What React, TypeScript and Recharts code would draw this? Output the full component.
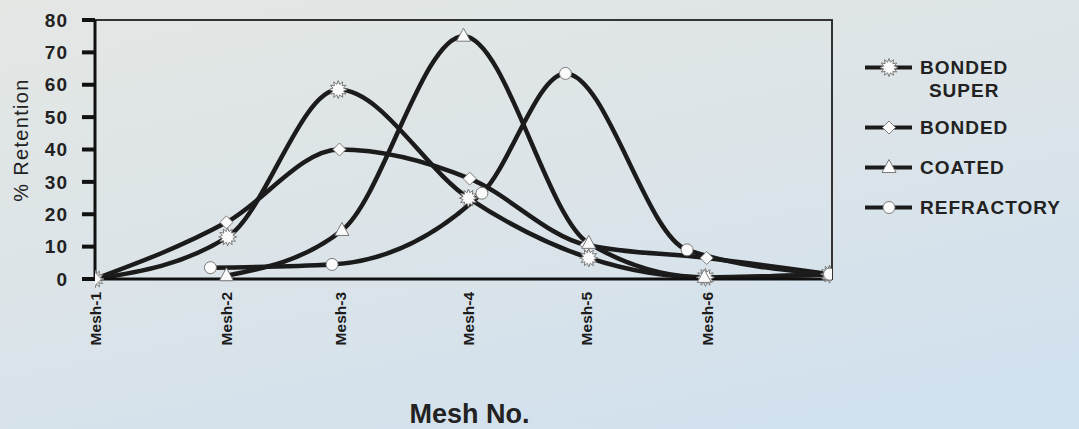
import React from 'react';
import { LineChart, Line, XAxis, YAxis, ReferenceArea } from 'recharts';

// x is the mesh position (0 = Mesh-1)
const meshLabels = ['Mesh-1', 'Mesh-2', 'Mesh-3', 'Mesh-4', 'Mesh-5', 'Mesh-6'];
const meshTicks = [0, 1.07, 2.0, 3.04, 4.0, 4.99];
const retentionTicks = [0, 10, 20, 30, 40, 50, 60, 70, 80];

const bondedSuperX = [0, 1.08, 1.98, 3.04, 4.02, 4.97, 5.98];
const bondedSuperY = [0, 13, 58.5, 25, 6.5, 0.5, 1.5];

const bondedX = [0, 1.07, 1.99, 3.05, 4.0, 4.98, 5.98];
const bondedY = [0, 17.5, 40, 31, 10.5, 6.5, 1.5];

const coatedX = [1.07, 2.01, 3.0, 4.02, 4.96, 5.98];
const coatedY = [1, 15, 75, 11, 0.5, 1.5];

const refractoryX = [0.94, 1.93, 3.15, 3.83, 4.82, 5.98];
const refractoryY = [3.5, 4.5, 26.5, 63.5, 9, 1.5];

const toPoints = (xs: number[], ys: number[]) => xs.map((x, i) => ({ x, y: ys[i] }));

const FONT = '"Liberation Sans", Arial, Helvetica, sans-serif';
const INK = '#1b1b1b';
const MARK_FILL = '#fbfbfb';
const MARK_STROKE = '#7a7a7a';

type Shape = 'star' | 'diamond' | 'triangle' | 'circle';

const Marker = ({ cx, cy, shape }: { cx: number; cy: number; shape: Shape }) => {
  if (cx == null || cy == null) return null;
  if (shape === 'circle') {
    return <circle cx={cx} cy={cy} r={6} fill={MARK_FILL} stroke={MARK_STROKE} strokeWidth={1} />;
  }
  if (shape === 'diamond') {
    const d = `M${cx},${cy - 6.5} L${cx + 6.5},${cy} L${cx},${cy + 6.5} L${cx - 6.5},${cy} Z`;
    return <path d={d} fill={MARK_FILL} stroke={MARK_STROKE} strokeWidth={1} />;
  }
  if (shape === 'triangle') {
    const d = `M${cx},${cy - 8} L${cx + 7},${cy + 5} L${cx - 7},${cy + 5} Z`;
    return <path d={d} fill={MARK_FILL} stroke={MARK_STROKE} strokeWidth={1} />;
  }
  // sunburst star
  const pts: string[] = [];
  for (let i = 0; i < 24; i++) {
    const r = i % 2 === 0 ? 9 : 5.5;
    const a = (Math.PI * i) / 12 - Math.PI / 2;
    pts.push(`${cx + r * Math.cos(a)},${cy + r * Math.sin(a)}`);
  }
  return <polygon points={pts.join(' ')} fill={MARK_FILL} stroke={MARK_STROKE} strokeWidth={1} />;
};

const series: { name: string[]; shape: Shape; data: { x: number; y: number }[] }[] = [
  { name: ['BONDED', 'SUPER'], shape: 'star', data: toPoints(bondedSuperX, bondedSuperY) },
  { name: ['BONDED'], shape: 'diamond', data: toPoints(bondedX, bondedY) },
  { name: ['COATED'], shape: 'triangle', data: toPoints(coatedX, coatedY) },
  { name: ['REFRACTORY'], shape: 'circle', data: toPoints(refractoryX, refractoryY) },
];

const MeshTick = (props: any) => {
  const { x, y, payload } = props;
  const label = meshLabels[meshTicks.indexOf(payload.value)];
  return (
    <text
      transform={`translate(${x},${y + 11}) rotate(-90)`}
      textAnchor="end"
      dy={5.5}
      fontSize={15.5}
      fontWeight={700}
      fill={INK}
      fontFamily={FONT}
    >
      {label}
    </text>
  );
};

const LegendBox = () => (
  <div
    style={{
      position: 'absolute',
      left: 862,
      top: 56,
      fontFamily: FONT,
      fontWeight: 700,
      fontSize: 19,
      letterSpacing: 1,
      color: '#222',
    }}
  >
    {series.map((s, i) => (
      <div
        key={s.name.join(' ')}
        style={{ display: 'flex', alignItems: 'flex-start', marginBottom: i === 0 ? 14 : 17 }}
      >
        <svg width={52} height={23} style={{ flex: 'none' }}>
          <line x1={3} y1={11.5} x2={50} y2={11.5} stroke={INK} strokeWidth={4} />
          <Marker cx={27} cy={11.5} shape={s.shape} />
        </svg>
        <div style={{ marginLeft: 6, textAlign: 'center', lineHeight: '23px' }}>
          {s.name.map((n) => (
            <div key={n}>{n}</div>
          ))}
        </div>
      </div>
    ))}
  </div>
);

const App = () => (
  <div
    style={{
      position: 'relative',
      width: 1079,
      height: 429,
      background: 'linear-gradient(168deg, #e4e7e4 0%, #dce4e8 45%, #cfe0ef 100%)',
      overflow: 'hidden',
    }}
  >
    <style>{'body{margin:0}'}</style>
    <LineChart
      width={1079}
      height={429}
      margin={{ top: 20, right: 247, bottom: 0, left: 0 }}
      style={{ fontFamily: FONT }}
    >
      <ReferenceArea x1={0} x2={6} y1={0} y2={80} fill="none" stroke="#333" strokeWidth={2} ifOverflow="visible" />
      <XAxis
        type="number"
        dataKey="x"
        domain={[0, 6]}
        ticks={meshTicks}
        interval={0}
        allowDataOverflow
        tick={<MeshTick />}
        tickLine={false}
        tickSize={0}
        axisLine={{ stroke: '#111', strokeWidth: 3 }}
        height={150}
        label={{
          value: 'Mesh No.',
          position: 'insideBottom',
          offset: 6,
          dx: 6,
          fontSize: 27,
          fontWeight: 700,
          fill: '#222',
        }}
      />
      <YAxis
        type="number"
        dataKey="y"
        domain={[0, 80]}
        ticks={retentionTicks}
        interval={0}
        width={95}
        tickSize={13}
        tickMargin={14}
        tickLine={{ stroke: '#111', strokeWidth: 4 }}
        axisLine={{ stroke: '#111', strokeWidth: 3 }}
        tick={{ fontSize: 19, fontWeight: 700, fill: '#222', letterSpacing: 1 }}
        label={{
          content: () => (
            <text
              transform="translate(28,140) rotate(-90)"
              textAnchor="middle"
              fontSize={20}
              letterSpacing={1.3}
              fill="#222"
              fontFamily={FONT}
            >
              % Retention
            </text>
          ),
        }}
      />
      {series.map((s) => (
        <Line
          key={s.name.join(' ')}
          data={s.data}
          dataKey="y"
          type="monotone"
          stroke={INK}
          strokeWidth={4.5}
          isAnimationActive={false}
          dot={(p: any) => <Marker key={`${s.shape}-${p.index}`} cx={p.cx} cy={p.cy} shape={s.shape} />}
          activeDot={false}
        />
      ))}
    </LineChart>
    <LegendBox />
  </div>
);

export default App;
